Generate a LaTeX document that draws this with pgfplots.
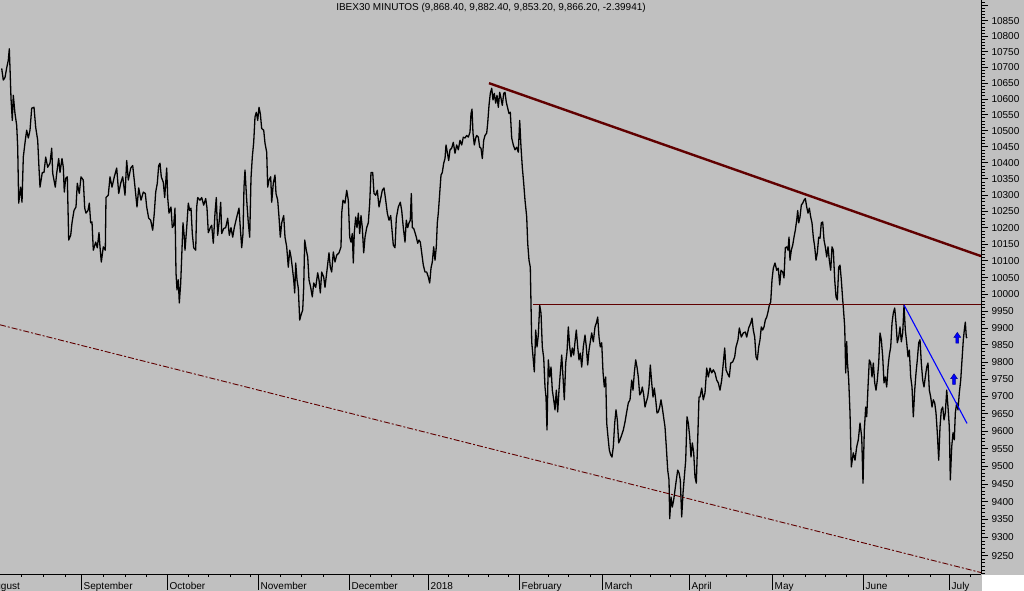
\documentclass[border=0pt]{standalone}
\usepackage{pgfplots}
\pgfplotsset{compat=1.18}
\usepackage{fontspec}
\setmainfont{Liberation Sans}
\definecolor{bg}{RGB}{192,192,192}
\definecolor{darkmaroon}{RGB}{96,0,0}
\definecolor{arrowblue}{RGB}{0,0,255}
\pgfdeclareplotmark{uparr}{%
 \pgfpathmoveto{\pgfpoint{0bp}{5.3bp}}%
 \pgfpathlineto{\pgfpoint{3.4bp}{0.4bp}}%
 \pgfpathlineto{\pgfpoint{1.4bp}{0.4bp}}%
 \pgfpathlineto{\pgfpoint{1.4bp}{-5.3bp}}%
 \pgfpathlineto{\pgfpoint{-1.4bp}{-5.3bp}}%
 \pgfpathlineto{\pgfpoint{-1.4bp}{0.4bp}}%
 \pgfpathlineto{\pgfpoint{-3.4bp}{0.4bp}}%
 \pgfpathclose
 \pgfusepathqfillstroke}
\begin{document}
\begin{tikzpicture}
\useasboundingbox (0,0) rectangle (1024bp,591bp);
\fill[bg] (0,0) rectangle (1024bp,591bp);
\fill[white] (982bp,0) rectangle (1024bp,16bp);
\node[font=\fontsize{10bp}{12bp}\selectfont, anchor=center] at (491bp,583bp) {IBEX30 MINUTOS (9,868.40, 9,882.40, 9,853.20, 9,866.20, -2.39941)};
\begin{axis}[
  at={(0,17bp)}, anchor=south west, scale only axis,
  width=981bp, height=574bp,
  y coord trafo/.code={\pgfmathparse{ln(#1/9000)}},
  xmin=0, xmax=981, ymin=9199, ymax=10917,
  axis x line=bottom, axis y line=right,
  axis line style={-, line width=1bp, black},
  clip=false,
  tick align=outside,
  major tick length=7bp, minor tick length=4bp,
  every tick/.style={black, line width=0.8bp},
  xtick style={/pgfplots/major tick length=16bp},
  minor x tick style={/pgfplots/minor tick length=3bp},
  xtick={81,167,258,349,428,519,602,689,772,863,949},
  xticklabels={September,October,November,December,2018,February,March,April,May,June,July},
  minor xtick={21.7,43.3,65,103.3,125,146.7,188.3,208.3,230,250,280,301.7,323.3,370,391.7,413.3,448.3,468.3,488.3,508.3,548.3,568.3,590,630,650,670,705,726.7,746.7,783.3,805,825,846.7,886.7,908.3,930,970},
  ytick={9250,9300,9350,9400,9450,9500,9550,9600,9650,9700,9750,9800,9850,9900,9950,10000,10050,10100,10150,10200,10250,10300,10350,10400,10450,10500,10550,10600,10650,10700,10750,10800,10850,10900},
  yticklabels={9250,9300,9350,9400,9450,9500,9550,9600,9650,9700,9750,9800,9850,9900,9950,10000,10050,10100,10150,10200,10250,10300,10350,10400,10450,10500,10550,10600,10650,10700,10750,10800,10850,{}},
  minor ytick={9200,9210,...,10910},
  ticklabel style={font=\fontsize{10bp}{12bp}\selectfont, black},
  xticklabel style={anchor=north west, inner sep=0pt, xshift=2.5bp, yshift=-1bp},
  yticklabel style={anchor=west},
]
\addplot[black, line width=1.3bp, line join=round] table {
x y
1.7 10697
3.3 10660
5 10669
6.7 10698
8.3 10724
9.3 10761
10 10698
11 10603
12.3 10533
13.3 10612
15 10555
16.7 10518
17.7 10449
18.7 10276
20.7 10325
22 10279
23.3 10418
25.3 10471
26.7 10502
28.3 10477
30 10502
31.7 10571
34 10574
35.7 10511
37.7 10471
39 10384
40 10325
42.3 10371
44 10371
45.7 10418
47.7 10387
50 10399
51.7 10446
52.7 10368
55.3 10325
56.7 10368
58.7 10415
60 10371
62 10415
63.3 10387
64.3 10310
65.7 10353
67.3 10356
68.7 10163
70.7 10178
72 10215
74 10254
76 10264
77.3 10337
79.3 10306
81 10356
83.3 10347
84.7 10260
86 10245
88 10254
89.3 10276
90.7 10215
92 10218
93.3 10133
95.7 10157
97.3 10139
99 10187
100 10142
101.3 10097
103.3 10142
105.3 10133
106 10294
108.3 10300
110 10356
112 10325
114.3 10356
116.7 10384
118.7 10306
120.7 10337
122.7 10356
125 10300
126.7 10408
128.3 10347
130.7 10384
132.7 10393
135 10325
137 10264
138.7 10322
141 10285
143.3 10310
145.3 10306
146.7 10264
148.7 10230
150.7 10224
152.7 10193
154.3 10245
155.7 10310
157.3 10337
158.7 10393
160 10399
161.3 10356
163.3 10340
164.7 10294
166.7 10384
167.7 10294
169 10245
171 10264
172.3 10202
173.7 10208
175 10260
176 10064
177 10013
178.3 10043
179.3 9974
180.7 10034
181.7 10112
183 10215
184.3 10172
185 10133
186.7 10202
188.3 10276
189.7 10254
191 10260
192.3 10184
193.7 10139
195.7 10133
196.7 10264
197.7 10294
200 10285
201.7 10294
203.7 10270
205.7 10291
207 10260
208.3 10187
210.3 10202
211.7 10208
213.3 10154
215 10245
216.3 10294
217.7 10178
219.3 10224
220.7 10279
221.7 10184
223.7 10199
225.7 10202
227.7 10230
229.3 10178
231 10202
232.7 10172
234.3 10202
236 10224
237.7 10245
239 10260
240.3 10202
241.7 10139
243 10184
244 10325
245 10377
246.7 10285
248.3 10215
249.7 10172
251 10353
252.3 10418
253.7 10464
255 10543
256.3 10559
257.7 10533
259 10574
260.3 10555
261.7 10508
263.7 10502
265 10461
266.7 10433
267.7 10325
269 10347
270.7 10356
271.7 10279
273.3 10337
275 10362
276 10306
277.7 10285
279 10233
280.3 10172
281.7 10215
283.7 10239
285 10172
286.7 10142
288.3 10082
289.7 10133
291 10112
292.3 10082
293.7 10043
294.7 10004
295.7 10094
297 10043
298.3 10019
299.7 9923
301 9938
302.7 9953
303.7 10022
304.7 10163
306.3 10133
307.7 10112
309 10043
310.7 10022
312.3 9992
313.7 10034
315.7 10022
317.7 10064
319 10043
320.3 10004
321.7 10067
323.7 10052
325 10022
327 10073
329 10124
330.3 10082
331.7 10067
333.3 10127
335 10097
336.7 10118
339 10124
341 10142
341.7 10245
343 10285
345 10276
346.7 10316
348.3 10285
349.7 10172
351 10157
352.3 10184
353.3 10094
354.3 10187
355.7 10233
357 10202
358.3 10245
359.7 10184
361 10239
362.3 10202
363.7 10124
365 10172
366.7 10202
368.3 10215
369.7 10276
371 10371
372.7 10371
374 10306
375.7 10300
377.3 10316
379 10264
380.7 10291
382.3 10316
384 10322
385.7 10285
387.3 10245
389 10224
390.7 10239
392.3 10184
393.3 10148
395 10139
396.3 10230
398.3 10264
400.3 10279
401.7 10254
403.3 10202
405 10157
406.3 10224
407.7 10202
409 10215
410.3 10224
411.3 10306
412.3 10202
413.7 10199
415 10187
416.3 10172
417.7 10154
419 10163
420.3 10157
421.7 10124
423.3 10088
425 10067
426.7 10067
428.3 10052
429.7 10034
431 10079
432.3 10097
433.7 10142
435 10103
436.3 10142
437.3 10215
438.3 10245
439.7 10306
441 10362
442.3 10371
443.7 10399
445 10415
446 10455
447.3 10433
448.7 10408
450 10440
451.7 10446
453.3 10464
455 10430
456.7 10455
458.3 10440
460 10471
461.7 10455
463.3 10480
465 10477
466.7 10486
468.3 10480
470 10496
471 10555
472 10568
473 10492
474.3 10455
475.7 10477
476.7 10486
478.3 10480
479.7 10449
481 10446
482.3 10415
483.7 10471
485 10486
486.7 10492
487.7 10524
489 10581
490.3 10618
491.7 10634
493 10597
494.3 10618
495.7 10587
497 10612
498.3 10574
499.7 10622
501 10603
502.3 10581
503.7 10618
505 10622
506.3 10590
507.7 10571
509 10555
510.3 10559
511.7 10477
513.3 10455
515 10440
516.7 10449
518.3 10433
519.7 10533
521 10449
522.3 10387
523.7 10337
525 10285
526.7 10233
527.7 10154
529 10103
530.3 10082
531.3 9923
531.7 9859
533.3 9806
534.3 9771
535.7 9894
537 9844
538.3 9879
539.7 9967
541 9944
542.3 9844
543.7 9812
545 9727
546 9698
547 9603
548.3 9806
549.7 9756
551 9785
552.3 9718
553.7 9690
555 9661
556.3 9718
557.7 9655
559 9718
560.3 9768
561.7 9820
563 9756
564.3 9690
565.7 9797
567 9829
568.3 9903
569.7 9844
571 9815
572.3 9841
573.7 9820
575 9859
576.3 9894
577.7 9844
579 9806
580.3 9826
581.7 9785
583.3 9844
585 9879
586.3 9844
587.7 9791
589 9835
590.3 9859
591.7 9885
593.3 9859
595 9903
596.3 9914
597.7 9932
599 9873
600.3 9844
601.7 9856
603 9771
604.3 9727
605.7 9756
606.7 9623
608 9583
609.3 9546
610.7 9532
612 9526
613.3 9555
614.7 9623
616 9661
617.3 9632
618.7 9566
620 9575
621.7 9589
623.3 9603
625 9626
626.7 9655
628.3 9681
630 9690
631.7 9747
633 9718
634.3 9768
635.7 9806
637 9785
638.3 9756
639.7 9704
641 9710
642.3 9727
643.7 9704
645 9669
646.3 9684
647.7 9698
649 9727
650.3 9791
651.7 9739
653 9698
654.3 9724
655.7 9690
657 9652
658.3 9655
659.7 9669
661 9690
662.3 9667
663.7 9638
665 9612
666.3 9555
667.7 9489
669 9461
669.7 9352
671 9413
672.3 9385
673.7 9405
675 9433
676.3 9461
677.7 9489
679 9481
680.3 9461
681.7 9357
683 9424
684.3 9469
685.7 9517
687 9641
688.3 9623
689.7 9583
691 9526
692.3 9566
693.7 9538
695 9469
696.3 9452
697.7 9575
699 9698
700 9698
701.7 9724
703.3 9690
705 9710
706.7 9782
708.3 9756
710 9782
711.7 9768
713.3 9777
715 9768
716.7 9747
718.3 9739
720 9718
721.7 9747
723.3 9797
724.7 9841
726 9777
727.3 9768
729.3 9756
730.7 9797
732.7 9800
734.7 9815
736 9844
738 9865
739.3 9900
741.3 9873
743.3 9885
745.3 9888
746.7 9873
748.7 9900
750.7 9914
752 9929
753.3 9894
754.7 9873
756 9815
757.3 9806
758.7 9844
760 9865
761.3 9903
762.7 9894
764 9903
765.3 9923
766.7 9932
768 9947
769.3 9967
770.7 9977
772 10043
773.3 10079
775 10094
776.7 10073
778.3 10079
779.7 10028
781 10073
782.7 10067
784 10049
785.3 10139
786.7 10142
788 10133
789 10172
790 10103
791.3 10133
792.7 10148
794 10172
795.3 10193
796.7 10224
797.7 10254
798.7 10215
800 10233
801.3 10270
802.7 10276
804 10285
805.3 10291
806.7 10264
808 10245
809.3 10260
810.7 10233
812 10215
813.3 10172
814.7 10142
816 10103
817.3 10124
818.7 10172
820 10169
821.3 10215
822.7 10218
824 10163
825.3 10142
826.7 10112
828 10142
829.3 10103
830.7 10073
832 10142
833.3 10133
834.7 10043
836 9992
837.3 9983
838.7 10082
840 10088
841.3 10043
842.7 9983
843.3 9962
844.7 9903
845.7 9768
846.7 9860
847.3 9806
848.7 9747
850 9652
851.3 9498
853.3 9538
855 9517
856.7 9555
858.3 9575
860 9623
861.7 9583
863 9452
864.3 9603
865.7 9669
866.7 9641
868 9727
869.3 9806
870.7 9797
872 9756
873.3 9797
874.7 9739
876 9718
877.3 9747
878.7 9797
880 9885
881.3 9865
882.7 9815
884 9739
885.3 9756
886.7 9727
888 9785
889.3 9820
890.7 9844
892 9914
893.3 9944
894.7 9959
896 9914
897.3 9856
898.7 9873
900 9903
901.3 9859
902.7 9885
904 9967
905.3 9894
906.7 9856
908 9815
909.3 9835
910.7 9756
912 9727
913.3 9641
914.7 9718
916 9768
917.3 9806
918.7 9856
920 9865
921.3 9797
922.7 9747
924 9727
925.3 9756
926.7 9785
928 9797
929.3 9718
930.7 9698
932 9669
933.3 9690
934.7 9681
936 9652
937.3 9595
938.7 9517
940 9612
941.3 9661
942.7 9669
944 9632
945.3 9652
946.7 9718
948 9669
949.3 9612
950.3 9461
951.7 9555
953 9595
954.3 9575
955.3 9652
956.7 9681
958 9661
959.3 9710
960.7 9747
962 9806
963.3 9865
964.3 9894
965.3 9917
966.3 9873
967 9870
};
\addplot[darkmaroon, line width=2.4bp] coordinates {(489,10650) (981,10115)};
\addplot[darkmaroon, line width=1bp] coordinates {(533,9968) (981,9968)};
\addplot[darkmaroon, line width=0.9bp, dash pattern=on 6bp off 2bp on 2bp off 2bp] coordinates {(0,9909) (981,9203)};
\addplot[arrowblue, line width=1.1bp] coordinates {(904,9968) (967,9622)};
\addplot[only marks, mark=uparr, mark options={fill=arrowblue, draw=arrowblue!60!black, line width=0.5bp}] coordinates {(954,9750) (957.3,9871)};
\node[anchor=north west, inner sep=0pt, yshift=-8bp, font=\fontsize{10bp}{12bp}\selectfont] at (rel axis cs:-0.0117,0) {August};
\end{axis}
\end{tikzpicture}
\end{document}
